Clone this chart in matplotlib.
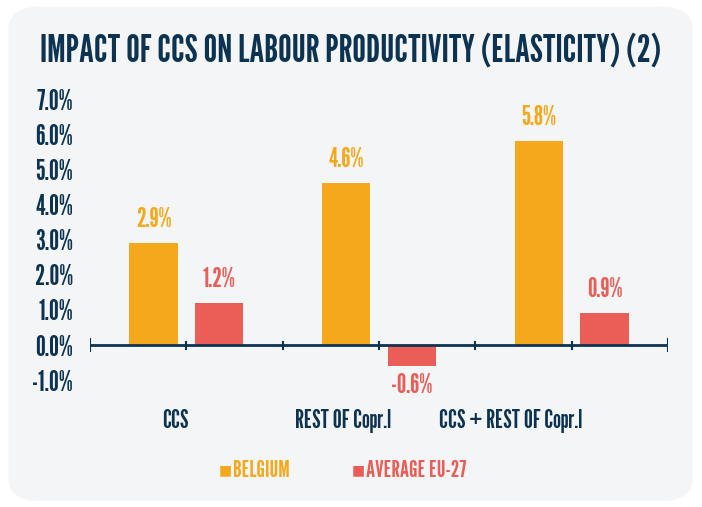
import numpy as np
import matplotlib
matplotlib.use("Agg")
import matplotlib.pyplot as plt
from matplotlib.patches import FancyBboxPatch
from matplotlib.ticker import FuncFormatter, MultipleLocator

plt.rcParams['font.family'] = ['League Gothic', 'DejaVu Sans']

# Data
categories = ["CCS", "REST OF Copr.l", "CCS + REST OF Copr.l"]
belgium = [2.9, 4.6, 5.8]
eu27 = [1.2, -0.6, 0.9]
series_names = ["BELGIUM", "AVERAGE EU-27"]

NAVY = "#0d3352"
ORANGE = "#f6a81c"
RED = "#ea5e57"

fig = plt.figure(figsize=(7.02, 5.07), dpi=100)
fig.patch.set_facecolor("white")

# rounded background panel
panel = FancyBboxPatch((0.012, 0.012), 0.975, 0.975,
                       boxstyle="round,pad=0,rounding_size=0.045",
                       transform=fig.transFigure, facecolor="#f4f5f7",
                       edgecolor="none", zorder=-1)
fig.patches.append(panel)

fig.text(0.5, 0.9, "IMPACT OF CCS ON LABOUR PRODUCTIVITY (ELASTICITY) (2)",
         ha="center", va="center", fontsize=27.5, color=NAVY)

ax = fig.add_axes([0.128, 0.2308, 0.8236, 0.5917])
ax.set_facecolor("none")

x = np.arange(len(categories))
w = 0.25
off = 0.17
b1 = ax.bar(x - off, belgium, w, color=ORANGE)
b2 = ax.bar(x + off, eu27, w, color=RED)

for rect, v in zip(b1, belgium):
    ax.annotate(f"{v:.1f}%", (rect.get_x() + rect.get_width() / 2, v),
                xytext=(0, 8), textcoords="offset points", ha="center",
                va="bottom", fontsize=19, color=ORANGE)
for rect, v in zip(b2, eu27):
    dy = 8 if v >= 0 else -5
    ax.annotate(f"{v:.1f}%", (rect.get_x() + rect.get_width() / 2, v),
                xytext=(0, dy), textcoords="offset points", ha="center",
                va="bottom" if v >= 0 else "top", fontsize=19, color=RED)

ax.set_xlim(-0.5, 2.5)
ax.set_ylim(-1.28, 7.26)
ax.yaxis.set_major_locator(MultipleLocator(1))
ax.yaxis.set_major_formatter(FuncFormatter(lambda v, p: f"{v:.1f}%"))
ax.tick_params(axis="y", length=0, pad=12, labelsize=20, labelcolor=NAVY)

for s in ["top", "right", "left", "bottom"]:
    ax.spines[s].set_visible(False)
ax.axhline(0, color=NAVY, lw=2, zorder=3)
for t in np.arange(-0.5, 2.51, 0.5):
    h = 0.16 if t in (-0.5, 2.5) else 0.1
    ax.plot([t, t], [-h, h], color=NAVY, lw=1.5, zorder=3)

# category labels
label_pos = x - 0.057 - 0.13 * x
ax.set_xticks(label_pos)
ax.set_xticklabels(categories)
ax.tick_params(axis="x", length=0, pad=14, labelsize=18, labelcolor=NAVY)

# legend
fig.text(0.312, 0.072, "■", ha="left", va="center", fontsize=10, color=ORANGE,
         family="DejaVu Sans")
fig.text(0.332, 0.072, series_names[0], ha="left", va="center", fontsize=17,
         color=ORANGE)
fig.text(0.501, 0.072, "■", ha="left", va="center", fontsize=10, color=RED,
         family="DejaVu Sans")
fig.text(0.521, 0.072, series_names[1], ha="left", va="center", fontsize=17,
         color=RED)

fig.savefig("out.png", dpi=100)
